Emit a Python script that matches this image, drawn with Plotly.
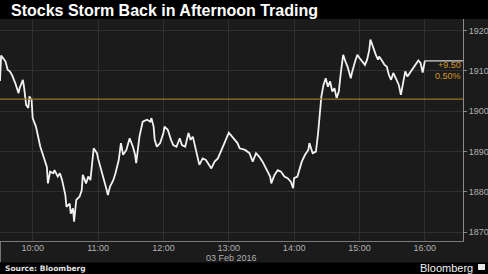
import plotly.graph_objects as go
import pandas as pd

# ---- data ----
times = ["09:30","09:31","09:35","09:37","09:39","09:41","09:44","09:47","09:48","09:51","09:52","09:54","09:56","09:57","09:59",
         "10:00","10:03","10:05","10:07","10:10","10:13","10:14","10:16","10:19","10:20","10:23","10:25","10:27","10:30","10:31",
         "10:34","10:35","10:37","10:38","10:40","10:43","10:45","10:46","10:49","10:51","10:53","10:56","10:59",
         "11:00","11:03","11:06","11:08","11:09","11:11","11:14","11:16","11:19","11:21","11:23","11:26","11:29","11:32","11:34",
         "11:35","11:38","11:41","11:45","11:48","11:49","11:51","11:52","11:54","11:57",
         "12:00","12:01","12:04","12:07","12:09","12:12","12:15","12:17","12:20","12:23","12:25","12:27","12:30","12:33","12:36",
         "12:39","12:44","12:47","12:50","12:53","12:56",
         "13:00","13:04","13:08","13:10","13:15","13:19","13:22","13:25","13:28","13:31","13:35","13:38","13:39","13:42","13:45",
         "13:48","13:51","13:54","13:57","13:59",
         "14:00","14:03","14:07","14:10","14:13","14:14","14:17","14:20","14:22","14:23","14:25","14:27","14:29","14:31","14:33",
         "14:35","14:37","14:39","14:41","14:43","14:45","14:47","14:49","14:52","14:53","14:56","14:58",
         "15:00","15:03","15:05","15:07","15:09","15:10","15:12","15:15","15:17","15:18","15:21","15:23","15:25","15:27","15:29",
         "15:31","15:34","15:36","15:38","15:40","15:42","15:44","15:48","15:51","15:54","15:56","15:58","16:00"]
values = [1907.5,1913.8,1912.4,1910.3,1909.9,1909.0,1907.0,1904.5,1905.7,1907.8,1906.1,1901.6,1900.8,1903.7,1902.8,
          1898.3,1896.2,1893.7,1891.2,1888.7,1886.2,1882.1,1885.0,1884.6,1885.4,1883.8,1884.6,1882.9,1879.2,1876.3,
          1877.1,1874.6,1875.9,1872.6,1878.0,1878.8,1880.4,1884.2,1882.1,1883.8,1882.9,1890.8,1889.6,
          1888.3,1885.4,1882.9,1880.4,1879.2,1881.3,1882.9,1884.6,1887.9,1892.1,1889.2,1890.4,1893.3,1891.2,1889.2,
          1887.1,1893.7,1897.4,1897.9,1897.4,1898.3,1896.2,1892.9,1891.2,1892.1,
          1894.6,1896.2,1895.4,1892.9,1891.6,1891.2,1893.3,1891.6,1891.2,1894.6,1892.9,1893.7,1890.4,1886.7,1888.3,
          1887.9,1885.8,1887.5,1888.3,1890.0,1892.1,
          1894.7,1893.3,1892.1,1890.8,1890.4,1889.6,1887.5,1889.6,1888.7,1887.5,1885.4,1883.8,1882.1,1884.2,1885.4,
          1885.0,1883.8,1883.4,1882.5,1880.9,
          1883.4,1883.8,1887.5,1889.2,1890.4,1892.1,1889.6,1890.0,1894.6,1898.5,1903.7,1906.6,1908.2,1906.1,1907.4,
          1904.9,1905.7,1903.3,1904.9,1909.9,1914.0,1912.4,1911.1,1908.2,1909.5,1912.4,1914.0,
          1913.2,1912.0,1911.5,1912.8,1915.3,1917.8,1916.1,1914.0,1912.8,1913.6,1912.4,1911.5,1911.1,1909.0,1907.8,
          1909.5,1907.8,1906.6,1904.1,1907.0,1909.9,1908.6,1910.3,1911.5,1912.6,1912.0,1909.6,1912.53]
prev_close = 1903.03
last_value = 1912.53
change_text = "+9.50"
pct_text = "0.50%"
date_label = "03 Feb 2016"
hour_ticks = ["10:00","11:00","12:00","13:00","14:00","15:00","16:00"]
y_ticks = [1870, 1880, 1890, 1900, 1910, 1920]
x_start, x_end = "09:30", "16:35"
y_range = [1867.8, 1922.9]

day = "2016-02-03 "
xs = pd.to_datetime([day + t for t in times])

fig = go.Figure()
fig.add_trace(go.Scatter(x=xs, y=values, mode="lines",
                         line=dict(color="#f2f2f2", width=1.8), hoverinfo="skip"))
# last price extended to right edge
fig.add_trace(go.Scatter(x=pd.to_datetime([day + times[-1], day + x_end]), y=[last_value, last_value],
                         mode="lines", line=dict(color="#d8d8d8", width=1.2), hoverinfo="skip"))

fig.add_hline(y=prev_close, line=dict(color="#9c7420", width=1.2))

tickfont = dict(family="Liberation Sans, Arial, sans-serif", size=9, color="#b0b0b0")
fig.update_layout(
    width=488, height=274,
    margin=dict(l=0, r=25, t=19, b=33),
    paper_bgcolor="#1b1b1b", plot_bgcolor="#1b1b1b",
    showlegend=False,
    title=dict(text="<b>Stocks Storm Back in Afternoon Trading</b>", x=11/488, xanchor="left",
               y=1-10/274, yanchor="middle",
               font=dict(family="Liberation Sans, Arial, sans-serif", size=16, color="#ffffff")),
    xaxis=dict(type="date", range=[day + x_start, day + x_end],
               tickvals=[day + t for t in hour_ticks], ticktext=hour_ticks,
               showgrid=True, gridcolor="#303030", gridwidth=1,
               showline=True, linecolor="#7a7a7a", linewidth=1,
               ticks="", tickfont=tickfont, zeroline=False, ticklabelstandoff=-2),
    yaxis=dict(side="right", range=y_range, tickvals=y_ticks,
               showgrid=True, gridcolor="#303030", gridwidth=1,
               showline=True, linecolor="#8a8a8a", linewidth=1,
               ticks="outside", ticklen=3, tickcolor="#8a8a8a",
               tickfont=tickfont, zeroline=False),
)

ph = 274 - 19 - 33
pw = 488 - 25
def py(pix):
    return 1 - (pix - 19) / ph
def px(pix):
    return pix / pw

shapes = [
    dict(type="rect", xref="paper", yref="paper", x0=-0.05, x1=1.2, y0=1, y1=1.3,
         fillcolor="#000000", line=dict(width=0), layer="below"),
    dict(type="rect", xref="paper", yref="paper", x0=-0.05, x1=1.2, y0=py(262.5), y1=py(290),
         fillcolor="#000000", line=dict(width=0), layer="below"),
    dict(type="line", xref="paper", yref="paper", x0=0.001, x1=0.001, y0=0, y1=py(262),
         line=dict(color="#7a7a7a", width=1)),
    dict(type="rect", xref="paper", yref="paper", x0=px(478), x1=px(485), y0=py(270), y1=py(264),
         fillcolor="#e6e6e6", line=dict(width=0)),
]
fig.update_layout(shapes=list(fig.layout.shapes) + shapes)

ann = [
    dict(text=date_label, x=px(232), y=py(258), xref="paper", yref="paper",
         xanchor="center", yanchor="middle", showarrow=False, font=tickfont),
    dict(text="<b>Source: Bloomberg</b>", x=px(3), y=py(268), xref="paper", yref="paper",
         xanchor="left", yanchor="middle", showarrow=False,
         font=dict(family="DejaVu Sans, sans-serif", size=7.5, color="#e0e0e0")),
    dict(text="Bloomberg", x=px(475), y=py(268), xref="paper", yref="paper",
         xanchor="right", yanchor="middle", showarrow=False,
         font=dict(family="Liberation Sans, Arial, sans-serif", size=11, color="#f0f0f0")),
    dict(text=change_text, x=px(462.5), y=py(65), xref="paper", yref="paper",
         xanchor="right", yanchor="middle", showarrow=False,
         font=dict(family="Liberation Sans, Arial, sans-serif", size=9, color="#d5962a")),
    dict(text=pct_text, x=px(462.5), y=py(75.5), xref="paper", yref="paper",
         xanchor="right", yanchor="middle", showarrow=False,
         font=dict(family="Liberation Sans, Arial, sans-serif", size=9, color="#d5962a")),
]
fig.update_layout(annotations=ann)

fig.write_html("out.html")
